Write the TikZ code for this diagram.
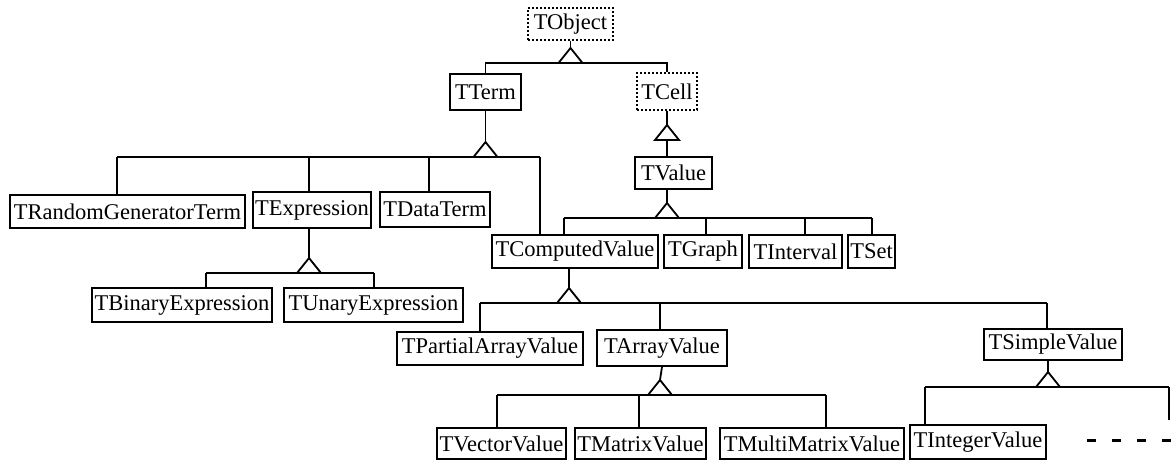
\documentclass[tikz,border=0pt]{standalone}
\usepackage{fontspec}
\setmainfont{Liberation Serif}
\begin{document}
\begin{tikzpicture}[x=1pt,y=-1pt,
  cls/.style={draw, line width=1.8pt, inner sep=0pt, font=\fontsize{22.5}{26}\selectfont},
  abs/.style={cls, line width=1.2pt, dash pattern=on 2pt off 2pt},
  ln/.style={line width=1.8pt},
  tri/.style={line width=1.8pt, fill=white, line join=miter}]
\useasboundingbox (0,0) rectangle (1171,461);
\newcommand\gentri[1]{\draw[tri] (#1) -- ++(-12,15) -- ++(24,0) -- cycle;}
% classes
\node[abs, minimum width=85pt, minimum height=32pt] (TObject) at (570.5,24) {TObject};
\node[cls, minimum width=71pt, minimum height=36pt] (TTerm) at (485.5,92) {TTerm};
\node[abs, minimum width=60pt, minimum height=37pt] (TCell) at (667,91.5) {TCell};
\node[cls, minimum width=77pt, minimum height=32pt] (TValue) at (673.5,173) {TValue};
\node[cls, minimum width=235pt, minimum height=33pt] (TRand) at (127.5,211.5) {TRandomGeneratorTerm};
\node[cls, minimum width=118pt, minimum height=36pt] (TExpr) at (312,210) {TExpression};
\node[cls, minimum width=110pt, minimum height=35pt] (TData) at (435,209.5) {TDataTerm};
\node[cls, minimum width=180pt, minimum height=34pt] (TBin) at (182,305) {TBinaryExpression};
\node[cls, minimum width=179pt, minimum height=34pt] (TUn) at (373.5,305) {TUnaryExpression};
\node[cls, minimum width=166pt, minimum height=33pt] (TComp) at (575,251.5) {TComputedValue};
\node[cls, minimum width=78pt, minimum height=33pt] (TGraph) at (703,251.5) {TGraph};
\node[cls, minimum width=93pt, minimum height=33pt] (TInt) at (795.5,251.5) {TInterval};
\node[cls, minimum width=47pt, minimum height=33pt] (TSet) at (871.5,251.5) {TSet};
\node[cls, minimum width=186pt, minimum height=33pt] (TPart) at (490,348.5) {TPartialArrayValue};
\node[cls, minimum width=130pt, minimum height=36pt] (TArr) at (662,348) {TArrayValue};
\node[cls, minimum width=138pt, minimum height=31pt] (TSimp) at (1053,344.5) {TSimpleValue};
\node[cls, minimum width=129pt, minimum height=31pt] (TVec) at (501.5,443.5) {TVectorValue};
\node[cls, minimum width=131pt, minimum height=31pt] (TMat) at (640.5,443.5) {TMatrixValue};
\node[cls, minimum width=184pt, minimum height=31pt] (TMulti) at (812,443.5) {TMultiMatrixValue};
\node[cls, minimum width=136pt, minimum height=34pt] (TInteger) at (978,442) {TIntegerValue};
% apex coordinates
\coordinate (aObj) at (570.5,48);
\coordinate (aTerm) at (485.5,142);
\coordinate (aCell) at (667,125);
\coordinate (aVal) at (667,203);
\coordinate (aExpr) at (309,258);
\coordinate (aComp) at (569,288);
\coordinate (aArr) at (660,380);
\coordinate (aSimp) at (1048,372);
\coordinate (dashEnd) at (1169,420);
% TObject
\draw[ln] (TObject.south) -- (aObj);
\draw[ln] (TTerm.north) -- (485.5,63) -- (667,63) -- (TCell.north);
\gentri{aObj}
% TTerm
\draw[ln] (TTerm.south) -- (aTerm);
\draw[ln] (117,157) -- (540,157);
\draw[ln] (117,157) -- (117,0 |- TRand.north);
\draw[ln] (309,157) -- (309,0 |- TExpr.north);
\draw[ln] (429,157) -- (429,0 |- TData.north);
\draw[ln] (540,157) -- (540,0 |- TComp.north);
\gentri{aTerm}
% TCell
\draw[ln] (TCell.south) -- (aCell);
\draw[ln] (667,140) -- (667,0 |- TValue.north);
\gentri{aCell}
% TValue
\draw[ln] (667,0 |- TValue.south) -- (aVal);
\draw[ln] (564,218) -- (872,218);
\draw[ln] (564,218) -- (564,0 |- TComp.north);
\draw[ln] (706,218) -- (706,0 |- TGraph.north);
\draw[ln] (805,218) -- (805,0 |- TInt.north);
\draw[ln] (872,218) -- (872,0 |- TSet.north);
\gentri{aVal}
% TExpression
\draw[ln] (309,0 |- TExpr.south) -- (aExpr);
\draw[ln] (206,273) -- (374,273);
\draw[ln] (206,273) -- (206,0 |- TBin.north);
\draw[ln] (374,273) -- (374,0 |- TUn.north);
\gentri{aExpr}
% TComputedValue
\draw[ln] (569,0 |- TComp.south) -- (aComp);
\draw[ln] (480,303) -- (1047,303);
\draw[ln] (480,303) -- (480,0 |- TPart.north);
\draw[ln] (660,303) -- (660,0 |- TArr.north);
\draw[ln] (1047,303) -- (1047,0 |- TSimp.north);
\gentri{aComp}
% TArrayValue
\draw[ln] (TArr.south) -- (aArr);
\draw[ln] (497,395) -- (826,395);
\draw[ln] (497,395) -- (497,0 |- TVec.north);
\draw[ln] (639,395) -- (639,0 |- TMat.north);
\draw[ln] (826,395) -- (826,0 |- TMulti.north);
\gentri{aArr}
% TSimpleValue
\draw[ln] (1048,0 |- TSimp.south) -- (aSimp);
\draw[ln] (925,387) -- (1169,387);
\draw[ln] (925,387) -- (925,0 |- TInteger.north);
\draw[ln] (1169,387) -- (dashEnd);
\gentri{aSimp}
\draw[line width=3pt, dash pattern=on 9pt off 16pt] (1087,440) -- (1171,440);
\end{tikzpicture}
\end{document}
